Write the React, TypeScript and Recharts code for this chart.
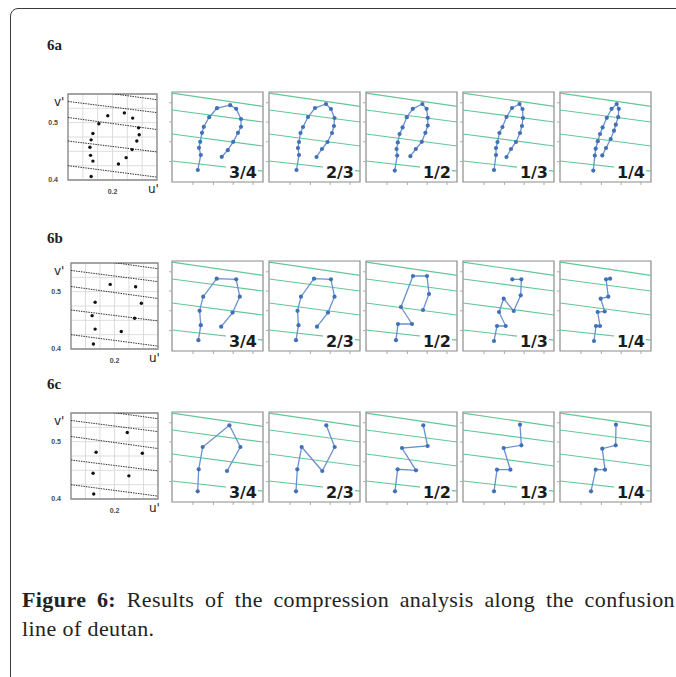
import React from "react";
import { ScatterChart, Scatter, XAxis, YAxis, CartesianGrid, ReferenceLine, ReferenceArea } from "recharts";

type Pt = [number, number];

// reference u'v' panels (left column)
const REF_U: [number, number] = [0.125, 0.275];
const REF_V: [number, number] = [0.4, 0.55];
const refTicksU = [0.125, 0.15, 0.175, 0.2, 0.225, 0.25, 0.275];
const refTicksV = [0.4, 0.425, 0.45, 0.475, 0.5, 0.525, 0.55];
const refLabelsU = [0.2];
const refLabelsV = [0.4, 0.5];
// dotted confusion lines: v' at the left edge, v' at the right edge
const refConfusion: Pt[] = [[0.561, 0.54], [0.537, 0.5175], [0.509, 0.488], [0.468, 0.449], [0.425, 0.405]];

const ref6a: Pt[] = [[0.192, 0.512], [0.22, 0.517], [0.234, 0.508], [0.177, 0.498], [0.244, 0.491], [0.167, 0.481], [0.245, 0.479], [0.164, 0.47], [0.241, 0.468], [0.162, 0.457], [0.233, 0.453], [0.163, 0.443], [0.167, 0.433], [0.223, 0.439], [0.21, 0.428], [0.164, 0.406]];
const ref6b: Pt[] = [[0.1926, 0.5127], [0.2364, 0.5085], [0.1666, 0.4815], [0.2463, 0.4797], [0.1614, 0.4582], [0.2347, 0.4537], [0.1666, 0.4347], [0.2117, 0.4305], [0.1636, 0.4087]];
const ref6c: Pt[] = [[0.222, 0.516], [0.1683, 0.4815], [0.248, 0.4797], [0.1631, 0.445], [0.2248, 0.4404], [0.1642, 0.4087]];

// compressed panels
const SM_U: [number, number] = [0.125, 0.2767];
const SM_V: [number, number] = [0.39, 0.54];
const smTicksU = [0.16, 0.194, 0.227, 0.26];
const smTicksV = [0.424, 0.457, 0.49, 0.522];
const smConfusion: Pt[] = [[0.538, 0.516], [0.51, 0.49], [0.47, 0.45], [0.425, 0.408]];

const ratios = ["3/4", "2/3", "1/2", "1/3", "1/4"];

// 6a
const a34: Pt[] = [[0.168, 0.41], [0.173, 0.435], [0.17, 0.447], [0.172, 0.457], [0.175, 0.472], [0.178, 0.482], [0.187, 0.498], [0.2, 0.513], [0.222, 0.518], [0.232, 0.512], [0.24, 0.495], [0.24, 0.482], [0.235, 0.472], [0.227, 0.457], [0.218, 0.443], [0.208, 0.432]];
const a23: Pt[] = [[0.1708, 0.41], [0.175, 0.435], [0.1733, 0.4467], [0.175, 0.4567], [0.1775, 0.4717], [0.1817, 0.4817], [0.19, 0.4983], [0.2017, 0.5133], [0.22, 0.52], [0.2283, 0.5117], [0.2342, 0.4967], [0.2333, 0.4833], [0.23, 0.4717], [0.2225, 0.4567], [0.2133, 0.445], [0.2042, 0.4317]];
const a12: Pt[] = [[0.173, 0.409], [0.177, 0.434], [0.176, 0.445], [0.178, 0.456], [0.181, 0.47], [0.186, 0.481], [0.193, 0.498], [0.203, 0.512], [0.219, 0.52], [0.226, 0.512], [0.228, 0.497], [0.228, 0.484], [0.224, 0.472], [0.218, 0.457], [0.208, 0.445], [0.199, 0.433]];
const a13: Pt[] = [[0.1767, 0.41], [0.18, 0.435], [0.18, 0.4467], [0.1825, 0.4567], [0.1858, 0.4717], [0.1908, 0.4817], [0.1975, 0.4983], [0.2067, 0.5133], [0.2192, 0.52], [0.2242, 0.5117], [0.225, 0.4967], [0.2233, 0.4833], [0.22, 0.4717], [0.2133, 0.4567], [0.205, 0.445], [0.1975, 0.4317]];
const a14: Pt[] = [[0.1805, 0.409], [0.183, 0.434], [0.1845, 0.4455], [0.188, 0.458], [0.1917, 0.47], [0.196, 0.481], [0.203, 0.497], [0.211, 0.512], [0.2195, 0.52], [0.223, 0.512], [0.222, 0.498], [0.218, 0.4855], [0.215, 0.4755], [0.2095, 0.4617], [0.2017, 0.4467], [0.1955, 0.4343]];

// 6b
const b34: Pt[] = [[0.169, 0.408], [0.173, 0.433], [0.171, 0.457], [0.177, 0.4805], [0.1995, 0.5105], [0.232, 0.5095], [0.238, 0.4805], [0.226, 0.454], [0.207, 0.4305]];
const b23: Pt[] = [[0.17, 0.408], [0.1742, 0.433], [0.1725, 0.457], [0.1783, 0.4805], [0.2, 0.5105], [0.2283, 0.5095], [0.2342, 0.4805], [0.2233, 0.454], [0.205, 0.4305]];
const b12: Pt[] = [[0.175, 0.408], [0.1783, 0.435], [0.2017, 0.435], [0.1833, 0.4633], [0.2033, 0.515], [0.2267, 0.515], [0.23, 0.485], [0.22, 0.4583]];
const b13: Pt[] = [[0.1767, 0.4067], [0.1817, 0.4317], [0.1962, 0.4317], [0.185, 0.455], [0.1928, 0.4772], [0.2095, 0.4567], [0.2212, 0.4828], [0.2222, 0.5095], [0.2072, 0.5095]];
const b14: Pt[] = [[0.1817, 0.4067], [0.185, 0.4317], [0.1917, 0.4317], [0.1878, 0.455], [0.1995, 0.4558], [0.1928, 0.4772], [0.2055, 0.4805], [0.2018, 0.5095], [0.2085, 0.5105]];

// 6c
const c34: Pt[] = [[0.1678, 0.4078], [0.1695, 0.4445], [0.1762, 0.4817], [0.2207, 0.5178], [0.239, 0.4817], [0.2167, 0.4417]];
const c23: Pt[] = [[0.17, 0.4078], [0.1722, 0.4445], [0.1795, 0.4817], [0.2138, 0.4417], [0.2345, 0.4817], [0.2205, 0.5178]];
const c12: Pt[] = [[0.1733, 0.4078], [0.1777, 0.4445], [0.2083, 0.4428], [0.185, 0.48], [0.2277, 0.4833], [0.2205, 0.5178]];
const c13: Pt[] = [[0.1767, 0.4078], [0.1817, 0.4438], [0.204, 0.4438], [0.1928, 0.48], [0.2223, 0.4845], [0.22, 0.5188]];
const c14: Pt[] = [[0.1767, 0.4078], [0.1845, 0.4438], [0.2, 0.4438], [0.1955, 0.4788], [0.2178, 0.4845], [0.2183, 0.5188]];

const rows = [
  { name: "6a", nameTop: 37, ref: ref6a, refBox: [68, 94, 89, 86], top: 92, panels: [a34, a23, a12, a13, a14] },
  { name: "6b", nameTop: 230, ref: ref6b, refBox: [71, 263, 87, 86], top: 261, panels: [b34, b23, b12, b13, b14] },
  { name: "6c", nameTop: 376, ref: ref6c, refBox: [71, 413, 87, 86], top: 412, panels: [c34, c23, c12, c13, c14] },
];

const toObj = (p: Pt[]) => p.map(([u, v]) => ({ u, v }));

const BLUE_LINE = "#6892cf";
const BLUE_DOT = "#4170b8";
const GREEN = "#63c795";

const blackDot = (p: any) => <circle cx={p.cx} cy={p.cy} r={1.7} fill="#111" />;
const blueDot = (p: any) => <circle cx={p.cx} cy={p.cy} r={2.1} fill={BLUE_DOT} />;

function RefPanel({ pts, box }: { pts: Pt[]; box: number[] }) {
  const [left, top, W, H] = box;
  const tickStyle = { fontSize: 7, fontWeight: 700, fill: "#4a4a4a", fontFamily: "Liberation Sans, Arial, sans-serif" };
  return (
    <div style={{ position: "absolute", left: left - 22, top: top - 1 }}>
      <ScatterChart width={22 + W + 1} height={1 + H + 14} margin={{ top: 1, right: 1, left: 0, bottom: 0 }}>
        <CartesianGrid stroke="#d4d4d4" strokeWidth={0.8} />
        <XAxis type="number" dataKey="u" domain={REF_U} ticks={refTicksU} interval={0} height={14}
          axisLine={false} tickLine={false} tickMargin={3} tick={tickStyle}
          tickFormatter={(t: number) => (refLabelsU.includes(t) ? String(t) : "")} />
        <YAxis type="number" dataKey="v" domain={REF_V} ticks={refTicksV} interval={0} width={22}
          axisLine={false} tickLine={false} tickMargin={4} tick={tickStyle}
          tickFormatter={(t: number) => (refLabelsV.includes(t) ? String(t) : "")} />
        {refConfusion.map(([a, b], i) => (
          <ReferenceLine key={i} segment={[{ x: REF_U[0], y: a }, { x: REF_U[1], y: b }]}
            stroke="#333" strokeWidth={1} strokeDasharray="1.5 1" ifOverflow="hidden" />
        ))}
        <ReferenceArea x1={REF_U[0]} x2={REF_U[1]} y1={REF_V[0]} y2={REF_V[1]} fill="none" stroke="#8a8a8a" strokeWidth={1.3} />
        <Scatter data={toObj(pts)} shape={blackDot} isAnimationActive={false} />
      </ScatterChart>
    </div>
  );
}

function SmallPanel({ pts, label, left, top }: { pts: Pt[]; label: string; left: number; top: number }) {
  const W = 91, H = 90;
  return (
    <div style={{ position: "absolute", left: left - 4, top: top - 1, width: 4 + W + 1, height: 1 + H + 4 }}>
      <ScatterChart width={4 + W + 1} height={1 + H + 4} margin={{ top: 1, right: 1, left: 0, bottom: 0 }}>
        <XAxis type="number" dataKey="u" domain={SM_U} ticks={smTicksU} interval={0} height={4}
          axisLine={false} tickLine={{ stroke: "#aaa" }} tickSize={3} tick={{ fontSize: 1 }} tickFormatter={() => ""} />
        <YAxis type="number" dataKey="v" domain={SM_V} ticks={smTicksV} interval={0} width={4}
          axisLine={false} tickLine={{ stroke: "#aaa" }} tickSize={3} tick={{ fontSize: 1 }} tickFormatter={() => ""} />
        {smConfusion.map(([a, b], i) => (
          <ReferenceLine key={i} segment={[{ x: SM_U[0], y: a }, { x: SM_U[1], y: b }]}
            stroke={GREEN} strokeWidth={1.2} ifOverflow="hidden" />
        ))}
        <ReferenceArea x1={SM_U[0]} x2={SM_U[1]} y1={SM_V[0]} y2={SM_V[1]} fill="none" stroke="#8c8c8c" strokeWidth={1.2} />
        <Scatter data={toObj(pts)} line={{ stroke: BLUE_LINE, strokeWidth: 1.3 }} lineType="joint"
          shape={blueDot} isAnimationActive={false} />
      </ScatterChart>
      <div style={{
        position: "absolute", right: 6, bottom: 6, background: "#fff", padding: "0 1px 0 3px",
        fontFamily: "DejaVu Sans, Verdana, sans-serif", fontWeight: 700, fontSize: 16, lineHeight: "15px", color: "#1c1c1c",
      }}>{label}</div>
    </div>
  );
}

const serif = "Liberation Serif, Times New Roman, serif";

export default function App() {
  return (
    <div style={{ position: "absolute", left: 0, top: 0, width: 676, height: 677, background: "#fff", overflow: "hidden" }}>
      <div style={{ position: "absolute", left: 10, top: 8, width: 720, height: 720, border: "1px solid #3a3a3a", borderTopLeftRadius: 8 }} />
      {rows.map((row) => {
        const [rl, rt, rw, rh] = row.refBox;
        return (
          <React.Fragment key={row.name}>
            <div style={{ position: "absolute", left: 47, top: row.nameTop, fontFamily: serif, fontWeight: 700, fontSize: 15, color: "#222" }}>{row.name}</div>
            <div style={{ position: "absolute", left: 54, top: rt + 1, fontFamily: "DejaVu Sans, sans-serif", fontSize: 12, color: "#222", lineHeight: "14px" }}>v'</div>
            <div style={{ position: "absolute", left: rl + rw - 9, top: rt + rh + 2, fontFamily: "DejaVu Sans, sans-serif", fontSize: 12, color: "#222", lineHeight: "14px" }}>u'</div>
            <RefPanel pts={row.ref} box={row.refBox} />
            {row.panels.map((p, i) => (
              <SmallPanel key={i} pts={p} label={ratios[i]} left={172 + 97 * i} top={row.top} />
            ))}
          </React.Fragment>
        );
      })}
      <div style={{ position: "absolute", left: 22, top: 585, width: 653, fontFamily: serif, fontSize: 22, lineHeight: "29px", color: "#222", letterSpacing: 0.4 }}>
        <div style={{ textAlign: "justify", textAlignLast: "justify", whiteSpace: "nowrap" }}>
          <b>Figure 6:</b> Results of the compression analysis along the confusion
        </div>
        <div>line of deutan.</div>
      </div>
    </div>
  );
}
